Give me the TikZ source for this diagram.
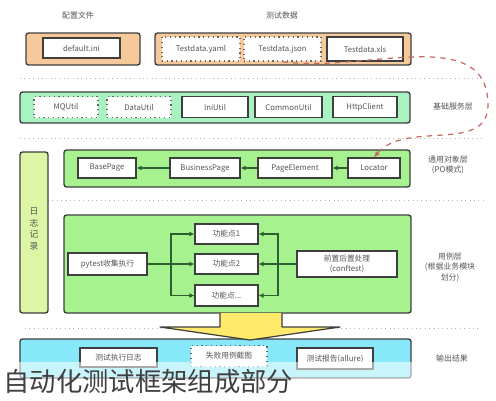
\documentclass[tikz,border=0pt]{standalone}
\usepackage{fontspec}
\setmainfont{Noto Sans CJK SC}
\usetikzlibrary{arrows.meta}
\definecolor{edgegray}{HTML}{3F3F3F}
\definecolor{txtgray}{HTML}{555555}
\definecolor{tanfill}{HTML}{F6C99A}
\definecolor{mintfill}{HTML}{A9F2C2}
\definecolor{leaffill}{HTML}{A6F28F}
\definecolor{limefill}{HTML}{DDF6A6}
\definecolor{cyanfill}{HTML}{86E8F8}
\definecolor{flowgreen}{HTML}{2F5E2F}
\definecolor{dashred}{HTML}{C46A5E}
\definecolor{arrowyellow}{HTML}{FFEA6C}

\begin{document}
\begin{tikzpicture}[x=0.02cm, y=-0.02cm]
	% Setup the styles for boxes, labels and connectors
	\tikzset{sz/.style 2 args={minimum width=#1*0.02cm, minimum height=#2*0.02cm},
		layerbox/.style={draw=edgegray, line width=0.8pt, rounded corners=1.5pt, inner sep=0pt},
		itembox/.style={draw=edgegray, line width=0.7pt, fill=white, inner sep=0pt,
			font=\fontsize{4.4}{5.5}\selectfont, text=txtgray},
		dotbox/.style={itembox, draw=edgegray!80, dotted, line width=0.8pt},
		lbl/.style={font=\fontsize{4.5}{6}\selectfont, text=txtgray, align=center},
		sep/.style={draw=gray!60, dotted, line width=0.5pt},
		flow/.style={draw=flowgreen, line width=0.7pt, -{Latex[length=1mm, width=1mm]}},
		plain/.style={draw=flowgreen, line width=0.7pt}}
	
	\useasboundingbox[fill=white] (0,0) rectangle (496,400);
	
	% layer separators
	\draw[sep] (20,78) -- (483,78);
	\draw[sep] (20,138) -- (483,138);
	\draw[sep] (48,200) -- (483,200);
	\draw[sep] (25,328) -- (480,328);
	
	% config and test data
	\node[lbl] (lblcfg) at (78,15) {配置文件};
	\node[lbl] (lbldata) at (282,15) {测试数据};
	\node[layerbox, fill=tanfill, sz={114}{32}] (cfg) at (83,49) {};
	\node[itembox, sz={77}{20}] (dflt) at (81.5,48) {default.ini};
	\node[layerbox, fill=tanfill, sz={256}{32}] (data) at (283,49) {};
	\node[dotbox, sz={78}{24}] (yaml) at (201,49) {Testdata.yaml};
	\node[dotbox, sz={77}{24}] (json) at (282.5,49) {Testdata.json};
	\node[itembox, sz={76}{24}] (xls) at (365,49) {Testdata.xls};
	
	% base service layer
	\node[layerbox, fill=mintfill, sz={390}{31}] (svc) at (215,107.5) {};
	\node[dotbox, sz={64}{21}] (mq) at (66,107) {MQUtil};
	\node[dotbox, sz={64}{21}] (dutil) at (139,107) {DataUtil};
	\node[itembox, sz={66}{21}] (ini) at (215,107) {IniUtil};
	\node[itembox, sz={67}{21}] (common) at (288.5,107) {CommonUtil};
	\node[itembox, sz={64}{21}] (http) at (365,107) {HttpClient};
	\node[lbl] (lblsvc) at (453,107) {基础服务层};
	
	% page object layer
	\node[layerbox, fill=leaffill, sz={346}{37}] (po) at (237,168.5) {};
	\node[itembox, sz={58}{20}] (base) at (107,168) {BasePage};
	\node[itembox, sz={70}{20}] (biz) at (205,168) {BusinessPage};
	\node[itembox, sz={74}{20}] (elem) at (295,168) {PageElement};
	\node[itembox, sz={52}{20}] (loc) at (374,168) {Locator};
	\node[lbl] (lblpo) at (448,165) {通用对象层\\(PO模式)};
	\draw[flow] (loc) -- (elem);
	\draw[flow] (elem) -- (biz);
	\draw[flow] (biz) -- (base);
	
	% logging bar
	\node[layerbox, fill=limefill, sz={28}{161}] (logbar) at (34,232.5) {};
	\node[lbl, font=\fontsize{5}{6.5}\selectfont] (lbllog) at (34,229) {日\\志\\记\\录};
	
	% test case layer
	\node[layerbox, fill=leaffill, sz={347}{98}] (case) at (237.5,264) {};
	\node[itembox, sz={79}{22}] (pytest) at (107.5,264) {pytest收集执行};
	\node[itembox, sz={63}{20}] (fp1) at (226.5,234) {功能点1};
	\node[itembox, sz={63}{20}] (fp2) at (226.5,264) {功能点2};
	\node[itembox, sz={63}{21}] (fp3) at (226.5,295.5) {功能点...};
	\node[itembox, sz={100}{26}, align=center] (conf) at (347,264) {前置后置处理\\(conftest)};
	\node[lbl] (lblcase) at (450,267) {用例层\\(根据业务模块\\划分)};
	\coordinate (splitL) at (171,264);
	\coordinate (splitR) at (278,264);
	\draw[plain] (pytest) -- (splitL);
	\draw[flow] (splitL) |- (fp1);
	\draw[flow] (splitL) -- (fp2);
	\draw[flow] (splitL) |- (fp3);
	\draw[plain] (conf) -- (splitR);
	\draw[flow] (splitR) |- (fp1);
	\draw[flow] (splitR) -- (fp2);
	\draw[flow] (splitR) |- (fp3);
	
	% output layer
	\node[layerbox, fill=cyanfill, sz={391}{39}] (out) at (215.5,358.5) {};
	\node[itembox, sz={77}{19}] (runlog) at (118.5,357.5) {测试执行日志};
	\node[dotbox, sz={76}{21}] (shot) at (229,356) {失败用例截图};
	\node[itembox, sz={76}{21}] (allure) at (335,358.5) {测试报告(allure)};
	\node[lbl] (lblout) at (452,358) {输出结果};
	
	% big arrow from case layer to output
	\draw[draw=edgegray, line width=0.7pt, fill=arrowyellow, line join=round]
	(220,313) -- (220,327) -- (160,327) -- (250,340) -- (340,327) -- (282,327) -- (282,313);
	
	% test data feeds the locator
	\coordinate (turn) at (488,105);
	\draw[dashred, dashed, line width=0.7pt, -{Latex[length=1.2mm, width=1.1mm]}]
	(json.south) to[out=-8, in=90] (turn) to[out=-90, in=50] (loc.north);
	
	% caption
	\fill[white, opacity=0.55] (0,362) rectangle (496,400);
	\node[font=\fontsize{15}{17}\selectfont, text=black!75, anchor=west, inner sep=0pt] (title) at (3,382) {自动化测试框架组成部分};
\end{tikzpicture}
\end{document}
